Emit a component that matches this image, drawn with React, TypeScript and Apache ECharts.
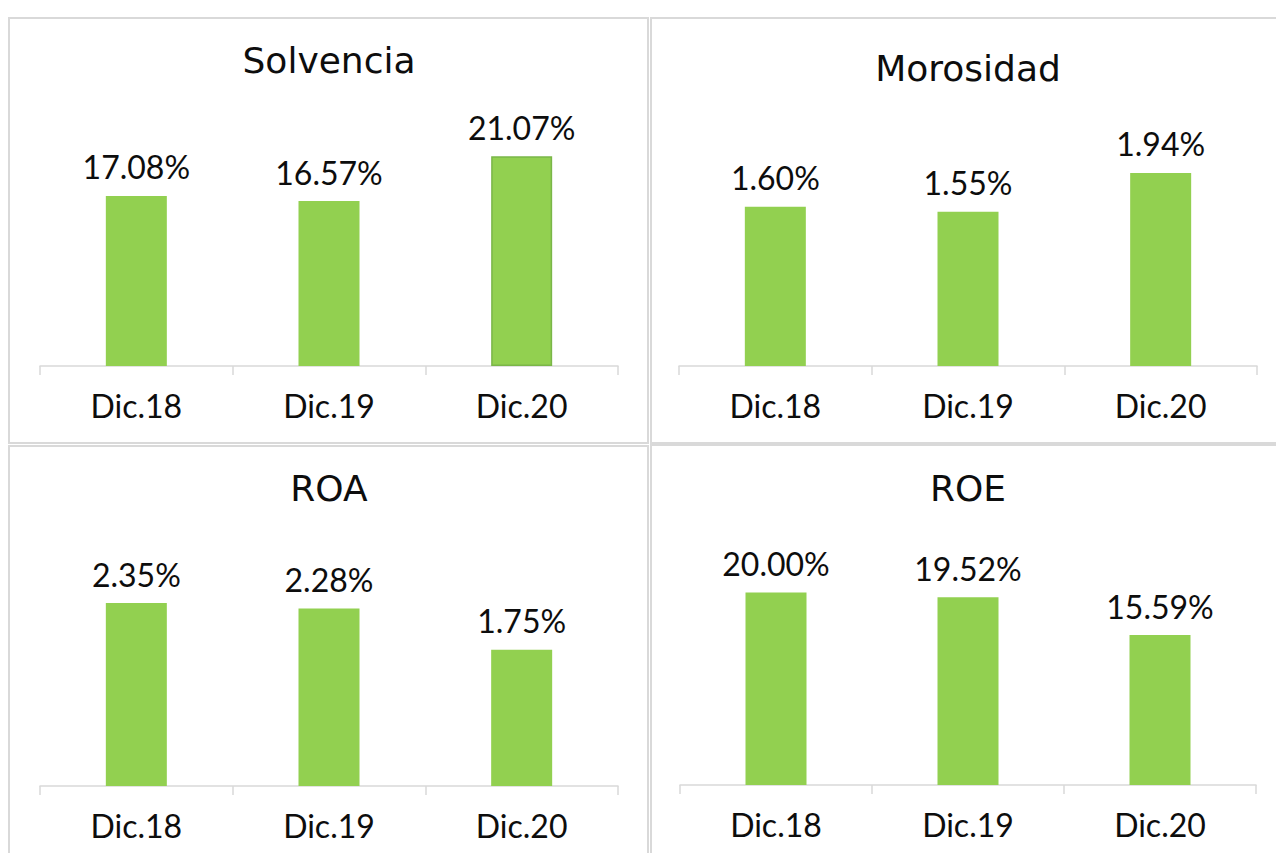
import React, { useEffect, useRef } from "react";
import * as echarts from "echarts";

const categories = ["Dic.18", "Dic.19", "Dic.20"];
const solvencia = [17.08, 16.57, 21.07];
const morosidad = [1.6, 1.55, 1.94];
const roa = [2.35, 2.28, 1.75];
const roe = [20.0, 19.52, 15.59];
const titles = ["Solvencia", "Morosidad", "ROA", "ROE"];

const FONT = "Lato";
const TITLE_FONT = "DejaVu Sans";
const GREEN = "#92D050";
const TEXT = "#0d0d0d";

export default function App() {
  const ref = useRef<HTMLDivElement>(null);
  useEffect(() => {
    if (!ref.current) return;
    const chart = echarts.init(ref.current, null, { renderer: "svg" });
    const grids = [
      { left: 40, width: 578, top: 147, height: 219 },
      { left: 679, width: 578, top: 147, height: 219 },
      { left: 40, width: 578, top: 568, height: 218 },
      { left: 680, width: 576, top: 567.6, height: 217.4 },
    ];
    const maxes = [22, 2.2, 2.8, 22.6];
    const datas = [solvencia, morosidad, roa, roe];
    const titlePos = [
      { x: 329, y: 64 },
      { x: 968, y: 72 },
      { x: 329, y: 492 },
      { x: 968, y: 492 },
    ];
    const option: any = {
      animation: false,
      backgroundColor: "#ffffff",
      title: titles.map((t, i) => ({
        text: t,
        left: titlePos[i].x,
        top: titlePos[i].y - 22,
        textAlign: "center",
        padding: 0,
        textStyle: { fontFamily: TITLE_FONT, fontSize: 36, fontWeight: "normal", color: TEXT },
      })),
      grid: grids.map((g) => ({ ...g, containLabel: false })),
      xAxis: grids.map((_, i) => ({
        type: "category",
        gridIndex: i,
        data: categories,
        axisLine: { show: true, lineStyle: { color: "#d9d9d9", width: 1.5 } },
        axisTick: { show: true, length: 9, lineStyle: { color: "#d9d9d9", width: 1.5 } },
        axisLabel: { margin: 23, fontFamily: FONT, fontSize: 32, color: TEXT },
      })),
      yAxis: grids.map((_, i) => ({
        type: "value",
        gridIndex: i,
        min: 0,
        max: maxes[i],
        show: false,
        splitLine: { show: false },
      })),
      series: datas.map((d, i) => ({
        type: "bar",
        xAxisIndex: i,
        yAxisIndex: i,
        barWidth: 61,
        data: d.map((v, j) =>
          i === 0 && j === 2
            ? { value: v, itemStyle: { color: GREEN, borderColor: "#7ab648", borderWidth: 1.5 } }
            : { value: v }
        ),
        itemStyle: { color: GREEN },
        label: {
          show: true,
          position: "top",
          distance: 13,
          fontFamily: FONT,
          fontSize: 32,
          color: TEXT,
          formatter: (p: any) => Number(p.value).toFixed(2) + "%",
        },
      })),
      graphic: [
        { type: "rect", shape: { x: 9, y: 18, width: 639, height: 425 }, style: { fill: "none", stroke: "#d9d9d9", lineWidth: 2 }, silent: true },
        { type: "rect", shape: { x: 651, y: 18, width: 640, height: 425 }, style: { fill: "none", stroke: "#d9d9d9", lineWidth: 2 }, silent: true },
        { type: "rect", shape: { x: 9, y: 446, width: 639, height: 420 }, style: { fill: "none", stroke: "#d9d9d9", lineWidth: 2 }, silent: true },
        { type: "rect", shape: { x: 651, y: 445, width: 640, height: 420 }, style: { fill: "none", stroke: "#d9d9d9", lineWidth: 2 }, silent: true },
      ],
    };
    chart.setOption(option);
    return () => chart.dispose();
  }, []);
  return (
    <div
      ref={ref}
      style={{ position: "absolute", left: 0, top: 0, width: 1276, height: 853, background: "#fff" }}
    />
  );
}
